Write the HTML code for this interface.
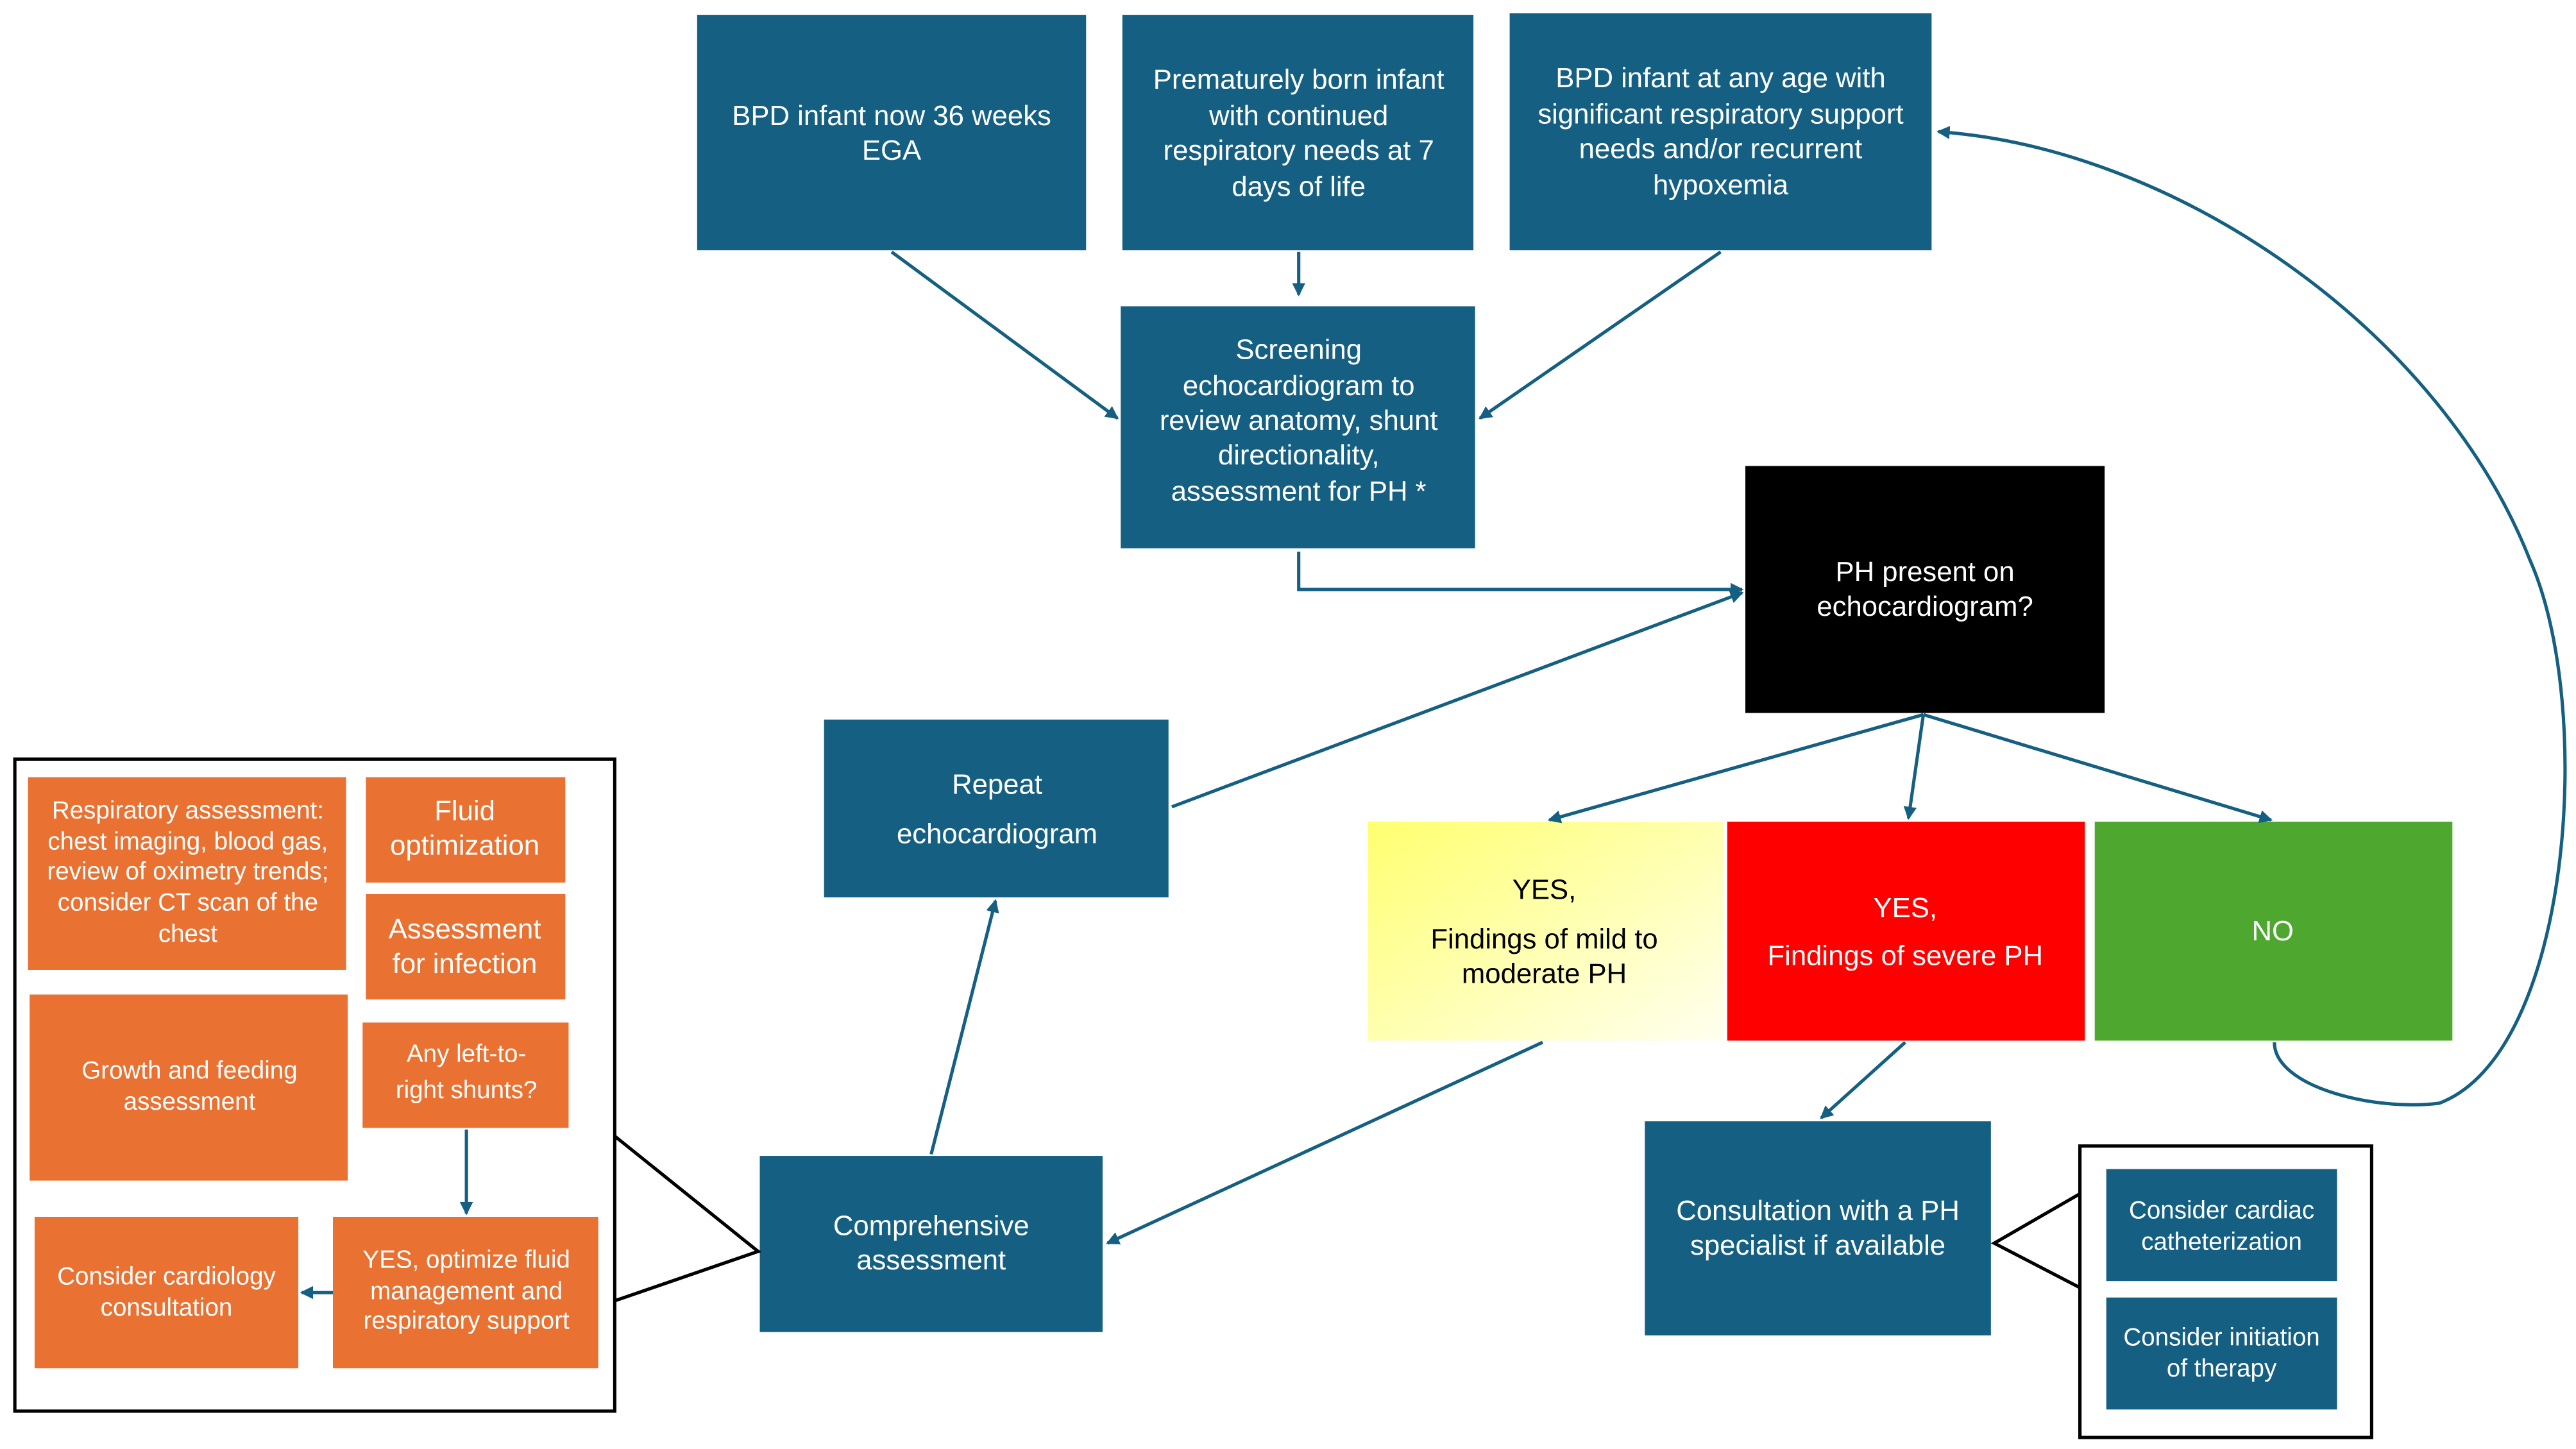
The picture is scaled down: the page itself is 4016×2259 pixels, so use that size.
<!DOCTYPE html>
<html><head><meta charset="utf-8"><style>
html,body{margin:0;padding:0;background:#fff;}
svg{display:block;}
text{font-family:"Liberation Sans",sans-serif;fill:#fff;text-anchor:middle;}
.k text{fill:#000;}
</style></head><body>
<svg width="4016" height="2259" viewBox="0 0 1563 880" preserveAspectRatio="none" xmlns="http://www.w3.org/2000/svg">
<defs>
<marker id="a" markerWidth="8" markerHeight="8" refX="7" refY="4" orient="auto" markerUnits="userSpaceOnUse"><path d="M0,0 L8,4 L0,8 z" fill="#156082"/></marker>
<linearGradient id="y" x1="0" y1="0" x2="1" y2="1"><stop offset="0" stop-color="#ffff70"/><stop offset="1" stop-color="#fffff0"/></linearGradient>
</defs>
<g fill="#156082">
<rect x="423" y="9" width="236" height="143"/>
<rect x="681" y="9" width="213" height="143"/>
<rect x="916" y="8" width="256" height="144"/>
<rect x="680" y="186" width="215" height="147"/>
<rect x="500" y="437" width="209" height="108"/>
<rect x="998" y="681" width="210" height="130"/>
<rect x="461" y="702" width="208" height="107"/>
<rect x="1278" y="710" width="140" height="68"/>
<rect x="1278" y="788" width="140" height="68"/>
</g>
<rect x="1059" y="283" width="218" height="150" fill="#000"/>
<rect x="830" y="499" width="216" height="133" fill="url(#y)"/>
<rect x="1048" y="499" width="217" height="133" fill="#fe0000"/>
<rect x="1271" y="499" width="217" height="133" fill="#4ea72e"/>
<rect x="1262" y="696" width="177" height="177" fill="none" stroke="#000" stroke-width="2"/>
<rect x="9" y="461" width="364" height="396" fill="none" stroke="#000" stroke-width="2"/>
<g fill="#e97132">
<rect x="17" y="472" width="193" height="117"/>
<rect x="222" y="472" width="121" height="64"/>
<rect x="222" y="543" width="121" height="64"/>
<rect x="18" y="604" width="193" height="113"/>
<rect x="220" y="621" width="125" height="64"/>
<rect x="21" y="739" width="160" height="92"/>
<rect x="202" y="739" width="161" height="92"/>
</g>
<g fill="none" stroke="#156082" stroke-width="2" marker-end="url(#a)">
<path d="M541,153 L678,254"/>
<path d="M788,153 L788,179"/>
<path d="M1044,153 L898,254"/>
<path d="M788,335 L788,358 L1057,358"/>
<path d="M711,490 L1057,360"/>
<path d="M1167,434 L940,498"/>
<path d="M1167,434 L1158,497"/>
<path d="M1167,434 L1378,498"/>
<path d="M936,633 L672,755"/>
<path d="M565,701 L604,547"/>
<path d="M1156,633 L1105,679"/>
<path d="M1380,633 C1380,660 1440,675 1480,670 C1560,640 1575,430 1535,340 C1480,200 1320,90 1176,80"/>
<path d="M283,686 L283,737"/>
<path d="M202,785 L183,785"/>
</g>
<g fill="none" stroke="#000" stroke-width="2">
<path d="M373,690 L460,760 L373,790"/>
<path d="M1262,725 L1210,755 L1262,782"/>
</g>
<g font-size="17">
<text x="541" y="76">BPD infant now 36 weeks</text><text x="541" y="97">EGA</text>
<text x="788" y="54">Prematurely born infant</text><text x="788" y="76">with continued</text><text x="788" y="97">respiratory needs at 7</text><text x="788" y="119">days of life</text>
<text x="1044" y="53">BPD infant at any age with</text><text x="1044" y="75">significant respiratory support</text><text x="1044" y="96">needs and/or recurrent</text><text x="1044" y="118">hypoxemia</text>
<text x="788" y="218">Screening</text><text x="788" y="240">echocardiogram to</text><text x="788" y="261">review anatomy, shunt</text><text x="788" y="282">directionality,</text><text x="788" y="304">assessment for PH *</text>
<text x="1168" y="353">PH present on</text><text x="1168" y="374">echocardiogram?</text>
<text x="605" y="482">Repeat</text><text x="605" y="512">echocardiogram</text>
<g class="k"><text x="937" y="546">YES,</text><text x="937" y="576">Findings of mild to</text><text x="937" y="597">moderate PH</text></g>
<text x="1156" y="557">YES,</text><text x="1156" y="586">Findings of severe PH</text>
<text x="1379" y="571">NO</text>
<text x="1103" y="741">Consultation with a PH</text><text x="1103" y="762">specialist if available</text>
<text x="565" y="750">Comprehensive</text><text x="565" y="771">assessment</text>
<text x="282" y="498">Fluid</text><text x="282" y="519">optimization</text>
<text x="282" y="570">Assessment</text><text x="282" y="591">for infection</text>
</g>
<g font-size="15">
<text x="1348" y="740">Consider cardiac</text><text x="1348" y="759">catheterization</text>
<text x="1348" y="817">Consider initiation</text><text x="1348" y="836">of therapy</text>
<text x="114" y="497">Respiratory assessment:</text><text x="114" y="516">chest imaging, blood gas,</text><text x="114" y="534">review of oximetry trends;</text><text x="114" y="553">consider CT scan of the</text><text x="114" y="572">chest</text>
<text x="115" y="655">Growth and feeding</text><text x="115" y="674">assessment</text>
<text x="283" y="645">Any left-to-</text><text x="283" y="667">right shunts?</text>
<text x="101" y="780">Consider cardiology</text><text x="101" y="799">consultation</text>
<text x="283" y="770">YES, optimize fluid</text><text x="283" y="789">management and</text><text x="283" y="807">respiratory support</text>
</g>
</svg>
</body></html>
